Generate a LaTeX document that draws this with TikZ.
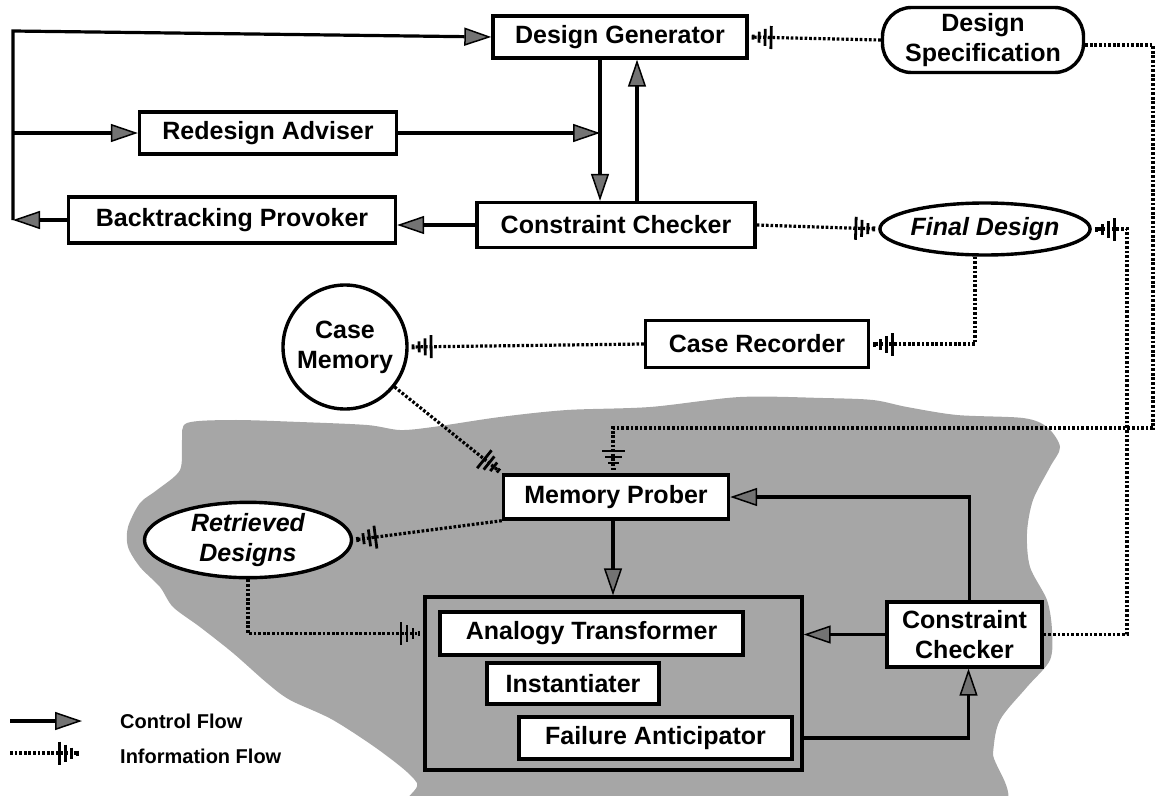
\documentclass[tikz,border=0pt]{standalone}
\usepackage{fontspec}
\setmainfont{Liberation Sans}
\usetikzlibrary{arrows.meta,shapes.geometric}

\tikzset{
  lbl/.style={font=\bfseries\fontsize{25}{30}\selectfont, align=center, inner sep=0pt},
  ilbl/.style={font=\bfseries\itshape\fontsize{25}{30}\selectfont, align=center, inner sep=0pt},
  box/.style={lbl, draw, line width=3.4pt, fill=white, rectangle},
  rbox/.style={box, rounded corners=29pt},
  ebox/.style={ilbl, draw, line width=3.4pt, fill=white, ellipse},
  cbox/.style={lbl, draw, line width=3.4pt, fill=white, circle},
  legendtxt/.style={font=\bfseries\fontsize{20}{24}\selectfont, inner sep=0pt, anchor=west},
  ctltip/.tip={Triangle[length=27pt,width=18pt,fill=black!55,line width=1.5pt]},
  infotip/.tip={Bar[width=23pt,line width=2.8pt,sep=3.2pt]
                Bar[width=17pt,line width=2.8pt,sep=3.2pt]
                Bar[width=11pt,line width=2.8pt,sep=3.2pt]
                Bar[width=5pt,line width=2.8pt,sep=3pt]},
  ctlflow/.style={line width=3.2pt, -{ctltip}},
  infoflow/.style={line width=3.2pt, dash pattern=on 2.7pt off 1.9pt, -{infotip}},
  shade/.style={fill=black!35, draw=none},
}

\begin{document}
\begin{tikzpicture}[x=1pt,y=-1pt]
\useasboundingbox (0,0) rectangle (1158,795);

% shaded region holding the retrieval part of the system
\fill[shade] plot[smooth cycle, tension=0.5] coordinates {
  (187,423) (233,420) (300,422) (367,425) (400,430) (433,427) (500,417)
  (567,410) (650,407) (740,397) (823,398) (873,400) (907,407) (957,415)
  (1023,418) (1047,427) (1060,447) (1050,467) (1033,500) (1027,533)
  (1030,567) (1047,600) (1052,630) (1050,660) (1027,687) (1000,720)
  (993,753) (990,815) (700,822) (420,815) (417,783) (383,753) (333,720)
  (290,700) (267,683) (233,653) (200,627) (173,607) (160,587) (140,567)
  (128,547) (128,527) (140,503) (157,490) (180,470) (182,440)};

% upper part: design loop
\node[box, minimum width=254pt, minimum height=42pt] (dg) at (620,37) {Design Generator};
\node[rbox, minimum width=201pt, minimum height=65pt] (ds) at (983,40) {Design\\Specification};
\node[box, minimum width=257pt, minimum height=42pt] (ra) at (268,133) {Redesign Adviser};
\node[box, minimum width=327pt, minimum height=46pt] (bp) at (232,220) {Backtracking Provoker};
\node[box, minimum width=278pt, minimum height=45pt] (cc1) at (616,225) {Constraint Checker};
\node[ebox, minimum width=196pt, minimum height=52pt] (fd) at (985,229) {Final Design};

% memory
\node[cbox, minimum size=124pt] (cm) at (345,347) {Case\\Memory};
\node[box, minimum width=223pt, minimum height=47pt] (cr) at (757,344) {Case Recorder};

% lower part: retrieval and adaptation
\node[box, minimum width=225pt, minimum height=44pt] (mp) at (616,497) {Memory Prober};
\node[ebox, minimum width=207pt, minimum height=70pt] (rd) at (248,540) {Retrieved\\Designs};
\node[draw, line width=3.4pt, rectangle, minimum width=377pt, minimum height=173pt, inner sep=0pt] (big) at (613.5,683.5) {};
\node[box, minimum width=303pt, minimum height=43pt] (at) at (591.5,633.5) {Analogy Transformer};
\node[box, minimum width=172pt, minimum height=41pt] (inst) at (573,683.5) {Instantiater};
\node[box, minimum width=273pt, minimum height=42pt] (fa) at (655.5,738) {Failure Anticipator};
\node[box, minimum width=155pt, minimum height=65pt] (cc2) at (964.5,634.5) {Constraint\\Checker};

% control flow of the design loop
\coordinate (ltop) at (13,31);
\coordinate (lbot) at (13,220);
\coordinate (dgdown) at ([xshift=-20pt]dg.south);
\coordinate (ccup) at ([xshift=21pt]cc1.north);
\draw[ctlflow] (bp.west) -- (lbot);
\draw[ctlflow, line join=miter] (lbot) -- (ltop) -- (dg.west);
\draw[ctlflow] (ltop |- ra.west) -- (ra.west);
\draw[ctlflow] (dgdown) -- (dgdown |- cc1.north);
\draw[ctlflow] (ra.east) -- (ra.east -| dgdown);
\draw[ctlflow] (ccup) -- (ccup |- dg.south);
\draw[ctlflow] (cc1.west) -- (cc1.west -| bp.east);

% information flow of the design loop
\draw[infoflow] (ds.west) -- (dg.east);
\draw[infoflow] (cc1.east) -- (fd.west);
\coordinate (fddown) at ([xshift=-10pt]fd.south);
\draw[infoflow] (fddown) |- (cr.east);
\draw[infoflow] (cr.west) -- (cm.east);

% specification feeds the memory prober
\coordinate (dsr) at (1153,45);
\coordinate (dsc) at (1153,428);
\coordinate (mpin) at (613,428);
\draw[infoflow] (ds.east |- dsr) -- (dsr) -- (dsc) -- (mpin) -- (mpin |- mp.north);

% checked design goes to the final design
\coordinate (fdr) at (1127,229);
\draw[infoflow] (cc2.east) -| (fdr) -- (fd.east);

% memory retrieval
\draw[infoflow] (cm) -- (mp.north west);
\draw[infoflow] (mp.south west) -- (rd.east);
\draw[infoflow] (rd.south) |- (big.west |- at);

% control flow of the adaptation part
\coordinate (mpdown) at ([xshift=-3pt]mp.south);
\draw[ctlflow] (mpdown) -- (mpdown |- big.north);
\draw[ctlflow] (cc2.west) -- (cc2.west -| big.east);
\coordinate (ccin) at ([xshift=4pt]cc2.south);
\draw[ctlflow] (big.east |- fa) -| (ccin);
\coordinate (ccout) at ([xshift=5pt]cc2.north);
\draw[ctlflow] (ccout) |- (mp.east);

% legend
\coordinate (lga) at (10,721);
\coordinate (lgb) at (82,721);
\coordinate (lgc) at (10,753);
\coordinate (lgd) at (82,753);
\draw[ctlflow] (lga) -- (lgb);
\draw[infoflow] (lgc) -- (lgd);
\node[legendtxt] (lgt1) at (120,721) {Control Flow};
\node[legendtxt] (lgt2) at (120,756) {Information Flow};
\end{tikzpicture}
\end{document}
